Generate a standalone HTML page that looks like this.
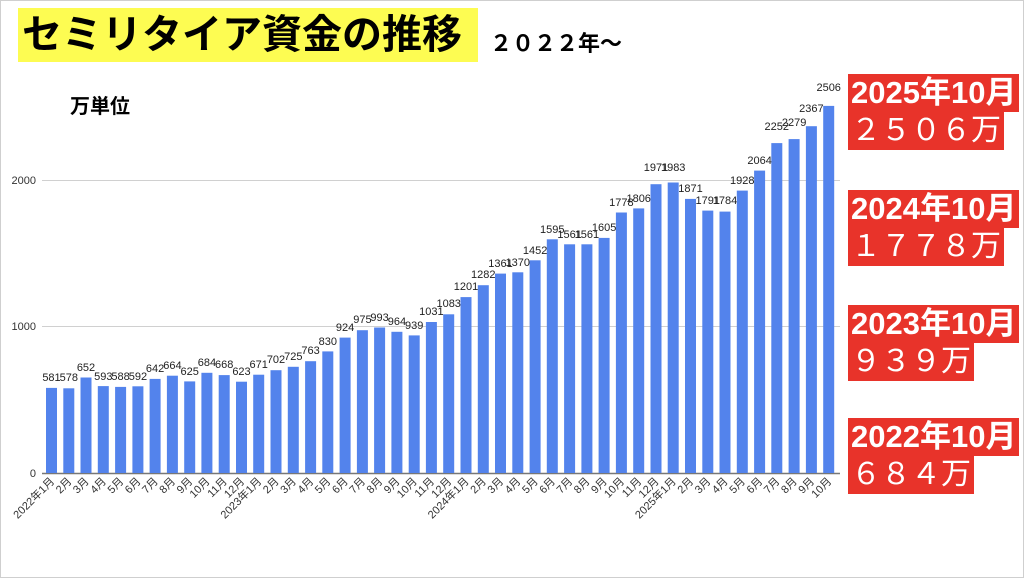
<!DOCTYPE html>
<html><head><meta charset="utf-8"><style>
html,body{margin:0;padding:0;background:#fff;}
body{width:1024px;height:578px;position:relative;overflow:hidden;font-family:"Liberation Sans","Noto Sans CJK JP",sans-serif;}
.frame{position:absolute;left:0;top:0;width:1022px;height:576px;border:1px solid #cfcfcf;}
.title{position:absolute;left:18px;top:8px;width:460px;height:54px;background:#fdfc52;font-size:40px;font-weight:bold;line-height:54px;padding-left:4px;box-sizing:border-box;white-space:nowrap;}
.sub{position:absolute;left:490px;top:26px;font-size:22px;font-weight:bold;letter-spacing:0px;}
.unit{position:absolute;left:70px;top:90px;font-size:20px;font-weight:bold;}
.rb{position:absolute;left:848px;background:#e8332a;color:#fff;font-weight:bold;font-size:31px;line-height:38px;height:38px;padding:0 3px;white-space:nowrap;}
.rb2{font-weight:normal;font-size:30px;}
svg{position:absolute;left:0;top:0;}
</style></head><body>
<div class="frame"></div>
<div class="title">セミリタイア資金の推移</div>
<div class="sub">２０２２年〜</div>
<div class="unit">万単位</div>
<div class="rb" style="top:74px">2025年10月</div><div class="rb rb2" style="top:112px">２５０６万</div>
<div class="rb" style="top:190px">2024年10月</div><div class="rb rb2" style="top:228px">１７７８万</div>
<div class="rb" style="top:305px">2023年10月</div><div class="rb rb2" style="top:343px">９３９万</div>
<div class="rb" style="top:418px">2022年10月</div><div class="rb rb2" style="top:456px">６８４万</div>
<svg width="1024" height="578" font-family="Liberation Sans, Noto Sans CJK JP, sans-serif">
<g stroke="#d0d0d0" stroke-width="1"><line x1="42" y1="180.5" x2="840" y2="180.5"/><line x1="42" y1="326.5" x2="840" y2="326.5"/></g>
<line x1="42" y1="473.5" x2="840" y2="473.5" stroke="#777" stroke-width="1.5"/>
<g font-size="11" fill="#333" text-anchor="end"><text x="36" y="184">2000</text><text x="36" y="330">1000</text><text x="36" y="477">0</text></g>
<g fill="#5383ec">
<rect x="46" y="387.9" width="11" height="85.1"/><rect x="63.3" y="388.3" width="11" height="84.7"/><rect x="80.5" y="377.5" width="11" height="95.5"/><rect x="97.8" y="386.1" width="11" height="86.9"/><rect x="115.1" y="386.9" width="11" height="86.1"/><rect x="132.4" y="386.3" width="11" height="86.7"/><rect x="149.6" y="378.9" width="11" height="94.1"/><rect x="166.9" y="375.7" width="11" height="97.3"/><rect x="184.2" y="381.4" width="11" height="91.6"/><rect x="201.4" y="372.8" width="11" height="100.2"/><rect x="218.7" y="375.1" width="11" height="97.9"/><rect x="236" y="381.7" width="11" height="91.3"/><rect x="253.2" y="374.7" width="11" height="98.3"/><rect x="270.5" y="370.2" width="11" height="102.8"/><rect x="287.8" y="366.8" width="11" height="106.2"/><rect x="305.1" y="361.2" width="11" height="111.8"/><rect x="322.3" y="351.4" width="11" height="121.6"/><rect x="339.6" y="337.6" width="11" height="135.4"/><rect x="356.9" y="330.2" width="11" height="142.8"/><rect x="374.1" y="327.5" width="11" height="145.5"/><rect x="391.4" y="331.8" width="11" height="141.2"/><rect x="408.7" y="335.4" width="11" height="137.6"/><rect x="425.9" y="322" width="11" height="151"/><rect x="443.2" y="314.3" width="11" height="158.7"/><rect x="460.5" y="297.1" width="11" height="175.9"/><rect x="477.8" y="285.2" width="11" height="187.8"/><rect x="495" y="273.6" width="11" height="199.4"/><rect x="512.3" y="272.3" width="11" height="200.7"/><rect x="529.6" y="260.3" width="11" height="212.7"/><rect x="546.8" y="239.3" width="11" height="233.7"/><rect x="564.1" y="244.3" width="11" height="228.7"/><rect x="581.4" y="244.3" width="11" height="228.7"/><rect x="598.6" y="237.9" width="11" height="235.1"/><rect x="615.9" y="212.5" width="11" height="260.5"/><rect x="633.2" y="208.4" width="11" height="264.6"/><rect x="650.5" y="184.2" width="11" height="288.8"/><rect x="667.7" y="182.5" width="11" height="290.5"/><rect x="685" y="198.9" width="11" height="274.1"/><rect x="702.3" y="210.6" width="11" height="262.4"/><rect x="719.5" y="211.6" width="11" height="261.4"/><rect x="736.8" y="190.6" width="11" height="282.4"/><rect x="754.1" y="170.6" width="11" height="302.4"/><rect x="771.3" y="143.1" width="11" height="329.9"/><rect x="788.6" y="139.1" width="11" height="333.9"/><rect x="805.9" y="126.2" width="11" height="346.8"/><rect x="823.2" y="105.9" width="11" height="367.1"/>
</g>
<g font-size="11" fill="#222" text-anchor="middle">
<text x="51.5" y="381">581</text><text x="68.8" y="381">578</text><text x="86" y="371">652</text><text x="103.3" y="380">593</text><text x="120.6" y="380">588</text><text x="137.9" y="380">592</text><text x="155.1" y="372">642</text><text x="172.4" y="369">664</text><text x="189.7" y="375">625</text><text x="206.9" y="366">684</text><text x="224.2" y="368">668</text><text x="241.5" y="375">623</text><text x="258.7" y="368">671</text><text x="276" y="363">702</text><text x="293.3" y="360">725</text><text x="310.6" y="354">763</text><text x="327.8" y="345">830</text><text x="345.1" y="331">924</text><text x="362.4" y="323">975</text><text x="379.6" y="321">993</text><text x="396.9" y="325">964</text><text x="414.2" y="329">939</text><text x="431.4" y="315">1031</text><text x="448.7" y="307">1083</text><text x="466" y="290">1201</text><text x="483.3" y="278">1282</text><text x="500.5" y="267">1361</text><text x="517.8" y="266">1370</text><text x="535.1" y="254">1452</text><text x="552.3" y="233">1595</text><text x="569.6" y="238">1561</text><text x="586.9" y="238">1561</text><text x="604.1" y="231">1605</text><text x="621.4" y="206">1778</text><text x="638.7" y="202">1806</text><text x="656" y="171">1971</text><text x="673.2" y="171">1983</text><text x="690.5" y="192">1871</text><text x="707.8" y="204">1791</text><text x="725" y="204">1784</text><text x="742.3" y="184">1928</text><text x="759.6" y="164">2064</text><text x="776.8" y="130">2252</text><text x="794.1" y="126">2279</text><text x="811.4" y="112">2367</text><text x="828.7" y="91">2506</text>
</g>
<g font-size="11" fill="#333" text-anchor="end">
<text transform="translate(55,482) rotate(-45)">2022年1月</text><text transform="translate(72.3,482) rotate(-45)">2月</text><text transform="translate(89.5,482) rotate(-45)">3月</text><text transform="translate(106.8,482) rotate(-45)">4月</text><text transform="translate(124.1,482) rotate(-45)">5月</text><text transform="translate(141.4,482) rotate(-45)">6月</text><text transform="translate(158.6,482) rotate(-45)">7月</text><text transform="translate(175.9,482) rotate(-45)">8月</text><text transform="translate(193.2,482) rotate(-45)">9月</text><text transform="translate(210.4,482) rotate(-45)">10月</text><text transform="translate(227.7,482) rotate(-45)">11月</text><text transform="translate(245,482) rotate(-45)">12月</text><text transform="translate(262.2,482) rotate(-45)">2023年1月</text><text transform="translate(279.5,482) rotate(-45)">2月</text><text transform="translate(296.8,482) rotate(-45)">3月</text><text transform="translate(314.1,482) rotate(-45)">4月</text><text transform="translate(331.3,482) rotate(-45)">5月</text><text transform="translate(348.6,482) rotate(-45)">6月</text><text transform="translate(365.9,482) rotate(-45)">7月</text><text transform="translate(383.1,482) rotate(-45)">8月</text><text transform="translate(400.4,482) rotate(-45)">9月</text><text transform="translate(417.7,482) rotate(-45)">10月</text><text transform="translate(434.9,482) rotate(-45)">11月</text><text transform="translate(452.2,482) rotate(-45)">12月</text><text transform="translate(469.5,482) rotate(-45)">2024年1月</text><text transform="translate(486.8,482) rotate(-45)">2月</text><text transform="translate(504,482) rotate(-45)">3月</text><text transform="translate(521.3,482) rotate(-45)">4月</text><text transform="translate(538.6,482) rotate(-45)">5月</text><text transform="translate(555.8,482) rotate(-45)">6月</text><text transform="translate(573.1,482) rotate(-45)">7月</text><text transform="translate(590.4,482) rotate(-45)">8月</text><text transform="translate(607.6,482) rotate(-45)">9月</text><text transform="translate(624.9,482) rotate(-45)">10月</text><text transform="translate(642.2,482) rotate(-45)">11月</text><text transform="translate(659.5,482) rotate(-45)">12月</text><text transform="translate(676.7,482) rotate(-45)">2025年1月</text><text transform="translate(694,482) rotate(-45)">2月</text><text transform="translate(711.3,482) rotate(-45)">3月</text><text transform="translate(728.5,482) rotate(-45)">4月</text><text transform="translate(745.8,482) rotate(-45)">5月</text><text transform="translate(763.1,482) rotate(-45)">6月</text><text transform="translate(780.3,482) rotate(-45)">7月</text><text transform="translate(797.6,482) rotate(-45)">8月</text><text transform="translate(814.9,482) rotate(-45)">9月</text><text transform="translate(832.2,482) rotate(-45)">10月</text>
</g>
</svg>
</body></html>
